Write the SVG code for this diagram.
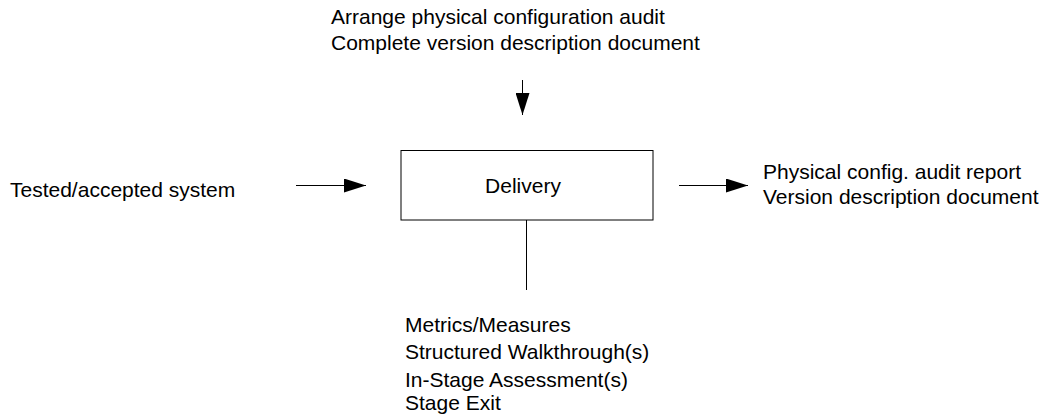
<svg xmlns="http://www.w3.org/2000/svg" width="1050" height="419" viewBox="0 0 1050 419">
  <style>
    .lbl { font-family: "Liberation Sans", Arial, sans-serif; font-size: 21px; fill: #000; }
    .box { fill: #fff; stroke: #000; stroke-width: 1; }
    .wire { stroke: #000; stroke-width: 1; fill: none; }
  </style>
  <defs>
    <marker id="head" viewBox="0 0 22 14" refX="22" refY="7" markerWidth="22" markerHeight="14" markerUnits="userSpaceOnUse" orient="auto">
      <path d="M0,0 L22,7 L0,14 Z" fill="#000"/>
    </marker>
  </defs>
  <rect width="1050" height="419" fill="#fff"/>

  <g id="connectors">
    <line class="wire" x1="296" y1="185.5" x2="366" y2="185.5" marker-end="url(#head)"/>
    <line class="wire" x1="679" y1="185.5" x2="748" y2="185.5" marker-end="url(#head)"/>
    <line class="wire" x1="522.5" y1="80" x2="522.5" y2="115" marker-end="url(#head)"/>
    <line class="wire" x1="526.5" y1="220" x2="526.5" y2="290"/>
  </g>

  <g id="delivery">
    <rect class="box" x="401" y="150.5" width="252" height="69.5"/>
    <text class="lbl" x="523" y="193" text-anchor="middle">Delivery</text>
  </g>

  <g id="input">
    <text class="lbl" x="10" y="196.5">Tested/accepted system</text>
  </g>

  <g id="controls">
    <text class="lbl" x="331" y="23.5">Arrange physical configuration audit</text>
    <text class="lbl" x="331" y="49.5">Complete version description document</text>
  </g>

  <g id="outputs">
    <text class="lbl" x="763" y="179">Physical config. audit report</text>
    <text class="lbl" x="763" y="203.5">Version description document</text>
  </g>

  <g id="mechanisms">
    <text class="lbl" x="405" y="331.5">Metrics/Measures</text>
    <text class="lbl" x="405" y="359">Structured Walkthrough(s)</text>
    <text class="lbl" x="405" y="386.5">In-Stage Assessment(s)</text>
    <text class="lbl" x="405" y="410">Stage Exit</text>
  </g>
</svg>
